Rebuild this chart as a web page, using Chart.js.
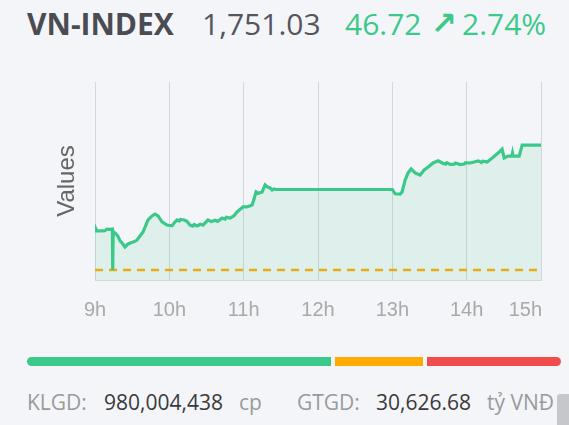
<!DOCTYPE html>
<html>
<head>
<meta charset="utf-8">
<script src="https://cdn.jsdelivr.net/npm/chart.js@4.4.1/dist/chart.umd.min.js"></script>
<style>
  html, body { margin: 0; padding: 0; background: #f4f5f9; }
  body { width: 569px; height: 425px; position: relative; overflow: hidden; font-family: "Open Sans", "Noto Sans", sans-serif; }
  .t { position: absolute; line-height: 1; white-space: nowrap; }
  .head { font-size: 30px; }
  .foot { font-size: 21px; }
  .gray { color: #9a9a9a; }
  .dark { color: #3a3a3a; }
  .up { color: #3bc98a; }
  #chartBox { position: absolute; left: 0; top: 70px; width: 569px; height: 260px; }
  .bar { position: absolute; top: 357px; height: 9px; }
  .scroll { position: absolute; left: 557px; top: 394px; width: 12px; height: 31px; background: #c6c7cb; border-radius: 3px 0 0 0; }
</style>
</head>
<body>
  <div class="t head" style="left:27px; top:9px; font-weight:700; color:#4b4b53;">VN-INDEX</div>
  <div class="t head" style="left:202px; top:9px; color:#55555d;">1,751.03</div>
  <div class="t head up" style="left:345px; top:9px;">46.72</div>
  <div class="t head up" style="left:431px; top:8px; font-family:'DejaVu Sans'; font-size:31px; font-weight:700;">↗</div>
  <div class="t head up" style="left:462px; top:9px;">2.74%</div>

  <div id="chartBox"><canvas id="indexChart"></canvas></div>

  <div class="bar" style="left:27px; width:304px; background:#3bc98a; border-radius:5px 0 0 5px;"></div>
  <div class="bar" style="left:335px; width:88px; background:#ffab00;"></div>
  <div class="bar" style="left:427px; width:134px; background:#f04c4c; border-radius:0 5px 5px 0;"></div>

  <div class="t foot gray" style="left:27px; top:392px;">KLGD:</div>
  <div class="t foot dark" style="left:104px; top:392px;">980,004,438</div>
  <div class="t foot gray" style="left:239px; top:392px;">cp</div>
  <div class="t foot gray" style="left:297px; top:392px;">GTGD:</div>
  <div class="t foot dark" style="left:376px; top:392px;">30,626.68</div>
  <div class="t foot gray" style="left:487px; top:392px;">tỷ VNĐ</div>
  <div class="scroll"></div>

<script>
// minutes since 9:00
const minutes = [
  0, 0.8, 1.5, 5, 8, 9.7, 12, 14.0, 14.3, 14.7, 16, 17.8, 19, 20.2, 22, 24.2, 26, 28.3, 31, 33.9,
  36, 38.8, 41, 42.8, 46, 48.5, 50.9, 54.1, 58.1, 62.2, 64, 66.2, 68, 69, 71.9, 74, 76.7, 79, 80, 82.4, 85, 87.2, 91.2,
  94, 96.9, 99, 102.6, 105, 106, 109, 112, 114.7, 119.5, 122.7, 126.8, 128.5, 130, 132, 134.9, 137.3, 139, 141.3, 143,
  144.5, 146, 150, 240, 242.3, 246.3, 247.9, 250.3, 252.7, 255.2, 258.4, 262.4, 265.7, 268.9,
  272.9, 277, 280.2, 283, 284, 286.7, 290, 291, 294.7, 298, 299, 302.8, 309.3, 312, 313, 316.5, 320.6, 325.4, 328.6, 330.3, 333.5,
  336.5, 337.0, 337.5, 342.4, 344.8, 360
];
const indexValues = [
  1718.9, 1719.6, 1718.9, 1718.9, 1719.0, 1719.6, 1719.5, 1719.6, 1704.3, 1718.5, 1718.2, 1717.4, 1716.5, 1715.2, 1714.3, 1712.9, 1713.8, 1714.4, 1714.8, 1715.5,
  1716.8, 1718.5, 1721.0, 1723.0, 1724.5, 1725.2, 1724.5, 1722.3, 1721.1, 1720.8, 1722.0, 1723.0, 1722.6, 1723.2, 1723.0, 1722.6, 1721.1, 1720.7, 1721.3, 1720.8, 1721.4, 1721.1, 1723.0,
  1722.4, 1722.9, 1722.5, 1723.7, 1723.3, 1724.0, 1723.7, 1724.5, 1726.0, 1727.9, 1727.9, 1728.6, 1731.0, 1733.5, 1733.0, 1733.5, 1736.1, 1735.4, 1735.0, 1734.2,
  1734.6, 1734.4, 1734.4, 1734.4, 1732.8, 1732.7, 1733.5, 1737.9, 1740.6, 1742.1, 1740.6, 1739.8, 1741.7, 1742.8,
  1744.3, 1745.1, 1744.3, 1743.9, 1744.4, 1743.8, 1743.9, 1744.3, 1743.7, 1743.9, 1744.4, 1744.3, 1745.1, 1744.5, 1745.0, 1744.7, 1746.2, 1748.0, 1749.5, 1746.2, 1746.9,
  1746.9, 1748.0, 1746.9, 1746.9, 1751.0, 1751.0
];
const refMinutes = [0, 360];
const refValue = 1704.31;
const hourTicks = ['9h', '10h', '11h', '12h', '13h', '14h', '15h'];
const yMin = 1700.57;
const yMax = 1774.58;

const points = minutes.map((m, i) => ({ x: m, y: indexValues[i] }));
const refPoints = refMinutes.map(m => ({ x: m, y: refValue }));

// draws the hour labels; the last one is right aligned on its grid line
const hourLabels = {
  id: 'hourLabels',
  afterDraw(chart) {
    const xs = chart.scales.x;
    const ctx = chart.ctx;
    ctx.save();
    ctx.font = '20px "Liberation Sans", Arial, sans-serif';
    ctx.fillStyle = '#a9a9a9';
    ctx.textBaseline = 'top';
    xs.ticks.forEach((tick, i) => {
      const px = xs.getPixelForTick(i);
      const last = i === xs.ticks.length - 1;
      ctx.textAlign = last ? 'right' : 'center';
      ctx.fillText(hourTicks[i], last ? px + 1 : px, xs.top + 20);
    });
    ctx.restore();
  }
};

new Chart(document.getElementById('indexChart'), {
  type: 'line',
  data: {
    datasets: [
      {
        data: points,
        borderColor: '#3bc98a',
        backgroundColor: 'rgba(59, 201, 138, 0.11)',
        borderWidth: 3.2,
        pointRadius: 0,
        tension: 0,
        fill: 'start'
      },
      {
        data: refPoints,
        borderColor: '#ffa900',
        borderWidth: 2.5,
        borderDash: [8, 6],
        pointRadius: 0,
        fill: false
      }
    ]
  },
  options: {
    responsive: true,
    maintainAspectRatio: false,
    animation: false,
    layout: { padding: { top: 12, right: 28, left: 0, bottom: 0 } },
    plugins: { legend: { display: false }, tooltip: { enabled: false } },
    scales: {
      x: {
        type: 'linear',
        min: 0,
        max: 360,
        afterFit: s => { s.height = 50; },
        grid: { color: '#d4d6da', lineWidth: 1, drawTicks: false },
        border: { color: '#d4d6da' },
        ticks: {
          stepSize: 60,
          display: false
        }
      },
      y: {
        min: yMin,
        max: yMax,
        afterFit: s => { s.width = 95; },
        grid: { display: false },
        border: { display: false },
        ticks: { display: false },
        title: {
          display: true,
          text: 'Values',
          color: '#666',
          font: { size: 24, family: '"Liberation Sans", Arial, sans-serif' },
          padding: { top: 53, bottom: 0 }
        }
      }
    }
  },
  plugins: [hourLabels]
});
</script>
</body>
</html>
